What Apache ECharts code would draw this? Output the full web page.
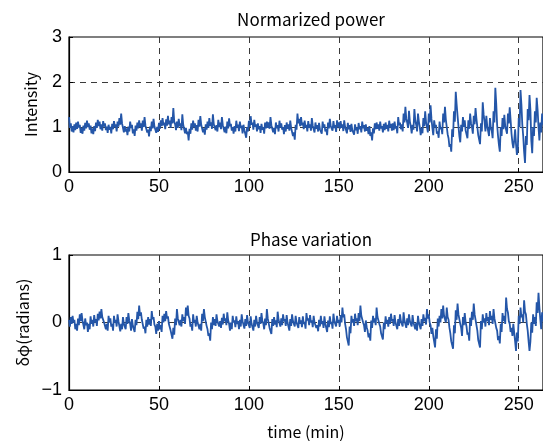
<!DOCTYPE html>
<html><head><meta charset="utf-8">
<script src="https://cdn.jsdelivr.net/npm/echarts@6/dist/echarts.min.js"></script>
<style>html,body{margin:0;padding:0;background:#fff}#c{width:543px;height:441px}</style>
</head><body><div id="c"></div>
<script>
const titles = ["Normarized power", "Phase variation"];
const yNames = ["Intensity", "δφ(radians)"];
const xName = "time (min)";
const sampleStep = 0.5; // minutes between samples

const power = [
1.22,0.98,1.08,0.90,1.02,0.88,1.06,0.93,1.10,0.96,1.12,0.99,1.05,0.87,0.98,0.85,1.03,0.92,1.09,0.97,
1.14,1.00,1.08,0.94,1.03,0.86,0.97,0.84,1.02,0.91,1.10,0.98,1.16,1.02,1.12,0.95,1.06,0.92,1.13,1.01,
1.08,0.93,1.01,0.87,1.05,0.94,1.00,0.86,1.07,0.95,1.13,1.00,1.06,0.90,1.12,1.01,1.20,1.05,1.30,1.08,
1.04,0.88,1.02,0.90,0.97,0.82,1.01,0.90,1.12,0.98,1.05,0.86,0.95,0.80,1.03,0.92,1.10,0.97,1.15,1.00,
1.08,0.92,1.14,1.00,1.22,1.03,1.06,0.88,0.94,0.79,1.01,0.91,1.12,0.97,1.18,1.01,1.05,0.87,1.00,0.89,
1.09,0.96,1.15,1.02,1.20,1.04,1.10,0.95,1.17,1.03,1.25,1.06,1.14,0.98,1.22,1.08,1.42,1.12,1.06,0.93,
1.12,0.98,1.18,1.02,1.08,0.93,1.28,1.05,1.02,0.86,0.98,0.84,0.90,0.70,0.96,0.85,1.08,0.94,1.14,1.00,
1.08,0.92,1.04,0.90,1.16,1.01,1.24,1.05,1.03,0.88,0.97,0.83,1.06,0.94,1.12,0.98,1.20,1.03,1.10,0.96,
1.28,1.06,1.10,0.93,1.04,0.90,1.16,1.00,1.10,0.95,1.22,1.04,1.06,0.88,1.01,0.86,1.12,0.97,1.19,1.02,
1.07,0.92,1.00,0.85,1.02,0.90,1.14,0.99,1.05,0.91,1.12,0.98,1.03,0.86,1.05,0.93,0.95,0.76,1.00,0.90,
1.14,1.00,1.24,1.05,1.10,0.94,1.16,1.01,1.06,0.90,1.08,0.95,1.02,0.87,1.07,0.94,1.00,0.85,1.10,0.97,
1.12,0.98,1.10,0.96,1.22,1.04,1.05,0.88,0.98,0.84,1.10,0.97,1.04,0.90,1.14,0.99,1.08,0.94,1.00,0.84,
1.04,0.90,1.10,0.96,1.06,0.92,1.14,0.98,0.95,0.80,0.88,0.72,1.05,0.94,1.30,1.08,1.18,1.02,1.22,1.04,
1.10,0.95,1.14,0.99,1.05,0.90,1.13,0.98,1.06,0.92,1.20,1.03,1.04,0.88,1.10,0.96,1.04,0.90,1.09,0.95,
0.98,0.85,1.12,0.98,1.06,0.90,0.96,0.82,1.10,0.97,1.18,1.02,1.06,0.92,1.13,0.98,1.04,0.89,1.15,1.00,
1.10,0.96,1.13,0.98,1.06,0.91,1.15,1.00,1.02,0.86,1.09,0.95,1.04,0.89,1.07,0.93,0.97,0.83,1.06,0.93,
0.99,0.85,1.09,0.95,1.02,0.88,1.12,0.97,1.04,0.90,1.06,0.92,0.98,0.84,1.02,0.80,0.88,0.70,0.97,0.86,
1.08,0.95,1.10,0.96,1.06,0.92,1.12,0.97,1.02,0.88,1.07,0.93,1.10,0.96,1.05,0.90,1.14,0.99,1.07,0.92,
1.08,0.93,1.12,0.97,1.02,0.86,1.22,1.04,1.10,0.95,1.06,0.90,1.30,1.10,1.45,1.18,1.10,0.98,1.36,1.12,
1.02,0.86,1.05,0.94,1.40,1.15,1.05,0.90,1.30,1.12,1.00,0.82,0.98,0.86,1.20,1.02,1.35,1.10,1.00,0.88,
1.30,1.10,1.48,1.18,0.98,0.82,1.15,1.00,1.05,0.85,0.90,0.76,1.12,0.95,1.00,0.84,1.30,1.10,1.45,1.16,
1.00,0.84,0.75,0.56,0.62,0.45,0.95,0.78,1.35,1.12,1.78,1.50,1.25,1.02,0.80,0.66,1.05,0.90,1.22,1.00,
1.15,0.92,0.90,0.75,1.15,0.96,1.30,1.08,1.00,0.85,1.25,1.06,1.42,1.18,1.00,0.82,0.78,0.62,1.08,0.90,
1.55,1.28,1.12,0.90,1.25,1.02,1.00,0.80,1.20,0.98,0.92,0.75,1.35,1.10,1.87,1.52,1.05,0.80,0.60,0.45,
1.00,0.80,1.20,0.95,1.27,1.02,1.05,0.85,1.30,1.08,1.44,1.15,0.85,0.65,0.53,0.70,0.95,0.62,0.38,0.50,
1.20,1.00,1.82,1.50,1.05,0.80,0.45,0.20,0.80,0.60,1.40,1.15,1.71,1.38,0.70,0.42,1.00,0.80,1.35,1.10,
1.65,1.38,1.00,0.70,1.10,0.88,1.30,1.05
];

const phase = [
0.04,-0.06,0.08,-0.02,0.10,0.00,0.04,-0.10,-0.02,-0.12,0.06,-0.04,0.12,0.02,0.14,0.03,0.02,-0.10,0.06,-0.04,
0.00,-0.14,-0.02,-0.10,0.09,-0.02,0.04,-0.06,0.11,0.00,0.05,-0.05,0.13,0.03,0.16,0.06,0.20,0.08,0.10,0.00,
0.02,-0.10,-0.02,-0.12,0.10,0.00,0.06,-0.06,-0.02,-0.12,0.10,0.00,0.04,-0.06,0.12,0.02,0.00,-0.13,-0.02,-0.10,
0.08,-0.02,0.00,-0.10,0.08,-0.02,0.14,0.03,-0.02,-0.12,0.05,-0.05,-0.04,-0.14,0.04,-0.04,0.16,0.05,0.25,0.10,
0.15,0.04,0.02,-0.09,-0.06,-0.16,0.04,-0.06,0.08,-0.03,0.05,-0.05,0.17,0.05,0.08,-0.03,-0.06,-0.17,-0.02,-0.12,
0.02,-0.10,-0.04,-0.14,0.10,0.00,0.13,0.02,0.17,0.06,0.09,-0.02,0.00,-0.12,-0.12,-0.24,-0.08,-0.18,0.06,-0.04,
0.20,0.06,0.08,-0.04,0.04,-0.06,0.12,0.02,0.08,-0.02,0.22,0.10,0.25,0.10,0.06,-0.06,-0.02,-0.12,0.12,0.00,
0.04,-0.06,0.10,0.00,0.02,-0.10,-0.02,-0.12,0.13,0.02,0.20,0.08,0.06,-0.05,-0.10,-0.20,-0.16,-0.27,0.00,-0.10,
0.08,-0.04,0.05,-0.05,0.12,0.02,0.04,-0.06,0.02,-0.08,0.07,-0.03,0.13,0.02,0.06,-0.04,0.15,0.03,-0.02,-0.12,
0.00,-0.10,0.10,0.00,0.03,-0.07,0.09,-0.02,0.02,-0.10,0.04,-0.06,0.12,0.02,0.04,-0.09,0.05,-0.05,0.11,0.00,
0.02,-0.08,0.09,-0.02,0.00,-0.12,0.04,-0.06,0.10,0.00,0.02,-0.08,0.08,-0.02,0.14,0.02,-0.01,-0.10,0.06,-0.04,
0.20,0.06,0.04,-0.08,-0.06,-0.17,0.05,-0.05,0.08,-0.03,0.03,-0.07,0.16,0.04,0.06,-0.06,0.06,-0.04,0.12,0.02,
0.05,-0.05,0.11,0.00,-0.02,-0.12,0.05,-0.05,0.12,0.02,0.04,-0.06,0.10,0.00,0.02,-0.08,0.08,-0.02,0.03,-0.07,
0.09,-0.02,0.01,-0.09,0.14,0.03,0.06,-0.04,0.11,0.00,0.03,-0.07,0.10,0.00,0.02,-0.08,-0.04,-0.13,0.04,-0.06,
0.10,-0.02,0.02,-0.08,0.09,-0.02,-0.04,-0.14,0.03,-0.07,0.09,-0.02,0.01,-0.09,0.13,0.02,0.04,-0.06,0.10,0.00,
0.04,-0.06,0.11,0.00,0.22,0.08,0.12,-0.02,-0.10,-0.22,-0.22,-0.34,-0.06,-0.16,0.10,0.00,0.05,-0.05,0.13,0.02,
0.06,-0.04,0.14,0.02,0.25,0.10,0.12,0.00,-0.04,-0.14,0.03,-0.07,-0.12,-0.22,-0.16,-0.27,0.03,-0.08,0.10,0.00,
0.06,-0.04,0.22,0.08,0.10,-0.02,-0.06,-0.16,-0.14,-0.25,0.00,-0.10,0.09,-0.02,0.04,-0.06,0.08,-0.02,0.13,0.02,
0.05,-0.05,0.11,0.00,0.00,-0.10,0.05,-0.05,0.12,0.02,0.04,-0.06,0.15,0.03,0.04,-0.08,0.06,-0.04,0.12,0.02,
0.04,-0.06,0.11,0.00,0.02,-0.10,0.00,-0.12,0.10,0.00,0.02,-0.10,0.05,-0.05,0.12,0.02,0.07,-0.03,0.20,0.06,
0.12,0.00,-0.04,-0.17,-0.08,-0.20,-0.22,-0.37,-0.10,-0.24,0.06,-0.06,0.10,0.00,0.20,0.06,0.25,0.10,0.12,0.00,
0.22,0.08,0.04,-0.08,-0.16,-0.28,-0.26,-0.39,-0.04,-0.16,0.18,0.04,0.28,0.12,0.10,-0.02,-0.08,-0.20,0.08,-0.04,
0.14,0.00,-0.06,-0.18,-0.15,-0.27,0.07,-0.05,0.16,0.04,0.28,0.12,0.10,-0.04,-0.12,-0.26,-0.24,-0.37,0.02,-0.10,
0.12,0.00,0.06,-0.06,0.14,0.02,0.08,-0.04,0.17,0.04,0.10,-0.02,0.20,0.06,0.04,-0.08,-0.12,-0.26,-0.20,-0.31,
-0.02,-0.14,0.14,0.02,0.10,-0.02,0.37,0.20,0.15,0.02,-0.02,-0.14,-0.08,-0.20,-0.02,-0.15,-0.28,-0.42,-0.15,-0.28,
0.10,-0.02,0.22,0.08,0.12,0.00,0.33,0.16,0.12,-0.02,-0.12,-0.28,-0.42,-0.28,0.00,-0.15,0.12,-0.02,0.08,-0.05,
0.30,0.14,0.44,0.22,0.05,-0.10,0.15,0.02
];

const toPairs = arr => arr.map((v, i) => [i * sampleStep, v]);

const lineColor = '#2456a8';
const labelFont = { fontFamily: 'Liberation Sans, Arial, sans-serif', fontSize: 18, color: '#000' };
const nameFont = { fontFamily: 'Noto Sans CJK JP, sans-serif', fontSize: 16, color: '#000' };
const titleFont = { fontFamily: 'Noto Sans CJK JP, sans-serif', fontSize: 17, color: '#000', fontWeight: 'normal' };
const dash = { color: '#3a3a3a', type: [6, 5], width: 1 };

function xAxis(gi, withName) {
  const a = {
    type: 'value', gridIndex: gi, min: 0, max: 263.5, interval: 50,
    axisLine: { show: true, onZero: false, lineStyle: { color: '#000', width: 1.2 } },
    axisTick: { show: true, inside: true, length: 4, lineStyle: { color: '#000' } },
    axisLabel: Object.assign({ margin: 6, showMaxLabel: false }, labelFont),
    splitLine: { show: true, showMinLine: false, showMaxLine: false, lineStyle: dash }
  };
  if (withName) {
    a.name = xName; a.nameLocation = 'middle'; a.nameGap = 34;
    a.nameTextStyle = nameFont;
  }
  return a;
}
function yAxis(gi, min, max, name, gap) {
  return {
    type: 'value', gridIndex: gi, min: min, max: max, interval: 1,
    name: name, nameLocation: 'middle', nameGap: gap, nameTextStyle: nameFont,
    axisLine: { show: true, onZero: false, lineStyle: { color: '#000', width: 1.2 } },
    axisTick: { show: true, inside: true, length: 4, lineStyle: { color: '#000' } },
    axisLabel: Object.assign({ margin: 7, formatter: v => String(v).replace('-', '\u2212') }, labelFont),
    splitLine: { show: true, showMinLine: false, showMaxLine: false, lineStyle: dash }
  };
}

const chart = echarts.init(document.getElementById('c'), null, { renderer: 'canvas' });
chart.setOption({
  animation: false,
  backgroundColor: '#fff',
  title: [
    { text: titles[0], left: 306, top: 6, textAlign: 'center', textStyle: titleFont },
    { text: titles[1], left: 306, top: 226, textAlign: 'center', textStyle: titleFont }
  ],
  grid: [
    { left: 69, top: 37, right: -1, height: 135, show: true, borderColor: '#000', borderWidth: 1.2, backgroundColor: 'transparent' },
    { left: 69, top: 255, right: -1, height: 135, show: true, borderColor: '#000', borderWidth: 1.2, backgroundColor: 'transparent' }
  ],
  xAxis: [xAxis(0, false), xAxis(1, true)],
  yAxis: [yAxis(0, 0, 3, yNames[0], 30), yAxis(1, -1, 1, yNames[1], 34)],
  series: [
    { type: 'line', xAxisIndex: 0, yAxisIndex: 0, data: toPairs(power), showSymbol: false, symbol: 'none',
      lineStyle: { color: lineColor, width: 1.8 }, sampling: null, z: 3 },
    { type: 'line', xAxisIndex: 1, yAxisIndex: 1, data: toPairs(phase), showSymbol: false, symbol: 'none',
      lineStyle: { color: lineColor, width: 1.8 }, sampling: null, z: 3 }
  ]
});
</script></body></html>
